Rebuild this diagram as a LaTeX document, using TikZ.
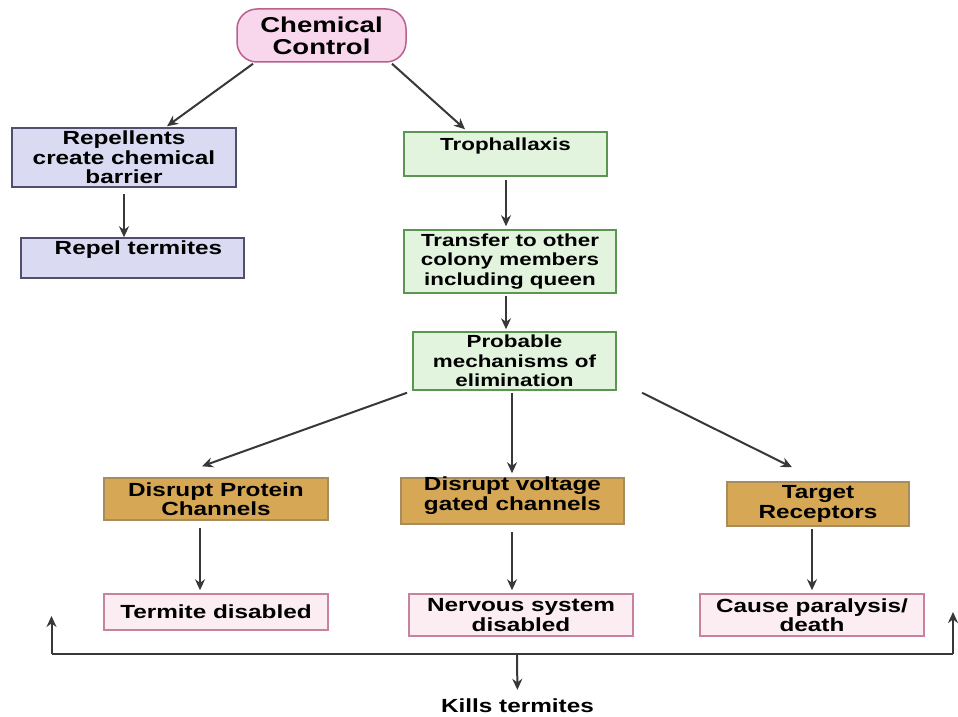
\documentclass[tikz,border=0pt]{standalone}
\usepackage{fontspec}
\setmainfont{Liberation Sans}[FakeStretch=1.28]
\usetikzlibrary{arrows.meta,calc}
\definecolor{chemfill}{HTML}{F8D6EC}
\definecolor{chemdraw}{HTML}{B8608F}
\definecolor{lavfill}{HTML}{DADAF2}
\definecolor{lavdraw}{HTML}{50506E}
\definecolor{grnfill}{HTML}{E2F3DE}
\definecolor{grndraw}{HTML}{5A9650}
\definecolor{goldfill}{HTML}{D6A855}
\definecolor{golddraw}{HTML}{A88C5E}
\definecolor{pkfill}{HTML}{FCEDF2}
\definecolor{pkdraw}{HTML}{C882A0}
\definecolor{arrcol}{HTML}{383838}
\begin{document}
\begin{tikzpicture}[x=1pt,y=-1pt,
  box/.style={draw, line width=1.5pt, inner sep=0pt, align=center, text=black,
    font=\bfseries\fontsize{19}{19.5}\selectfont},
  chembox/.style={box, rounded corners=20pt, fill=chemfill, draw=chemdraw,
    font=\bfseries\fontsize{21.5}{22}\selectfont},
  lavbox/.style={box, fill=lavfill, draw=lavdraw},
  grnbox/.style={box, fill=grnfill, draw=grndraw, font=\bfseries\fontsize{17.5}{19.5}\selectfont},
  goldbox/.style={box, fill=goldfill, draw=golddraw},
  pkbox/.style={box, fill=pkfill, draw=pkdraw},
  arr/.style={draw=arrcol, line width=2pt, -{Stealth[length=11pt,width=10pt]}},
  ln/.style={draw=arrcol, line width=2pt},
  lbl/.style={inner sep=0pt, text=black, font=\bfseries\fontsize{19}{19.5}\selectfont}]
\useasboundingbox (0,0) rectangle (958,717);
\fill[white] (0,0) rectangle (958,717);

\node[chembox, minimum width=169pt, minimum height=53pt] (chem) at (321.5,35.5) {Chemical\\Control};
\node[lavbox, minimum width=224pt, minimum height=59pt] (rep) at (124,157.5) {Repellents\\create chemical\\barrier};
\node[lavbox, minimum width=223pt, minimum height=40pt] (repel) at (132.5,258) {\hspace*{12pt}\raisebox{8pt}[\height][\depth]{Repel termites}};
\node[grnbox, minimum width=203pt, minimum height=44pt] (troph) at (505.5,154) {\raisebox{8pt}[\height][\depth]{Trophallaxis}};
\node[grnbox, minimum width=212pt, minimum height=63pt] (trans) at (510,261.5) {Transfer to other\\colony members\\including queen};
\node[grnbox, minimum width=203pt, minimum height=58pt] (prob) at (514.5,361) {Probable\\mechanisms of\\elimination};
\node[goldbox, minimum width=224pt, minimum height=42pt] (prot) at (216,499) {Disrupt Protein\\Channels};
\node[goldbox, minimum width=223pt, minimum height=46pt] (volt) at (512.5,501) {\raisebox{4.5pt}[\height][\depth]{\begin{tabular}{@{}c@{}}Disrupt voltage\\gated channels\end{tabular}}};
\node[goldbox, minimum width=182pt, minimum height=44pt] (targ) at (818,504) {Target\\Receptors};
\node[pkbox, minimum width=224pt, minimum height=36pt] (term) at (216,612) {Termite disabled};
\node[pkbox, minimum width=224pt, minimum height=42pt] (nerv) at (521,615) {Nervous system\\disabled};
\node[pkbox, minimum width=224pt, minimum height=42pt] (cause) at (812,615) {Cause paralysis/\\death};
\node[lbl] (kills) at (517.5,706) {Kills termites};

\coordinate (jL) at (51.5,654);
\coordinate (jR) at (953,654);
\coordinate (jM) at (517,654);
\coordinate (tipL) at (51.5,616);
\coordinate (tipR) at (953,612);

\draw[arr] ($(chem.south)+(-68.5,1)$) -- ($(rep.north)+(43,-1)$);
\draw[arr] ($(chem.south)+(70.5,1)$) -- ($(troph.north)+(-40.5,-2)$);
\draw[arr] ($(rep.south)+(0,6)$) -- ($(repel.north)+(-8.5,0)$);
\draw[arr] ($(troph.south)+(0.5,3)$) -- ($(trans.north)+(-4,-3)$);
\draw[arr] ($(trans.south)+(-4,2)$) -- ($(prob.north)+(-8.5,-2)$);
\draw[arr] ($(prob.south)+(-107.5,2)$) -- ($(prot.north)+(-14,-11)$);
\draw[arr] ($(prob.south)+(-2.5,2)$) -- ($(volt.north)+(-0.5,-4)$);
\draw[arr] ($(prob.south)+(127.5,2)$) -- ($(targ.north)+(-26,-14)$);
\draw[arr] ($(prot.south)+(-16,7)$) -- ($(term.north)+(-16,-3)$);
\draw[arr] ($(volt.south)+(-0.5,7)$) -- ($(nerv.north)+(-9,-3)$);
\draw[arr] ($(targ.south)+(-6,2)$) -- ($(cause.north)+(0,-3)$);

\draw[ln] (jL) -- (jR);
\draw[arr] (jL) -- (tipL);
\draw[arr] (jR) -- (tipR);
\draw[arr, shorten >=9pt] (jM) -- (kills.north);
\end{tikzpicture}
\end{document}
